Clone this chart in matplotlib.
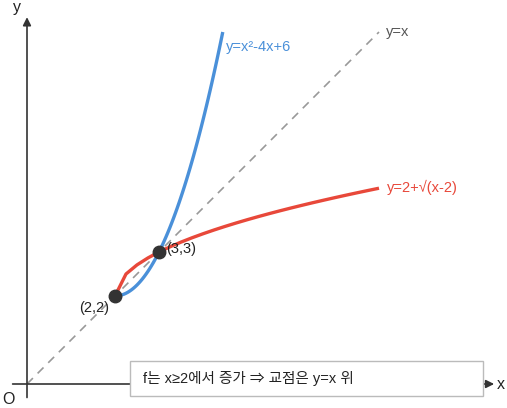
import numpy as np
import matplotlib
matplotlib.use("Agg")
import matplotlib.pyplot as plt
from matplotlib.patches import Rectangle

plt.rcParams['font.family'] = ['Liberation Sans', 'Noto Sans CJK KR', 'DejaVu Sans']

# curve samples (x values); y follows the labelled functions
parab_x = np.linspace(2, 2 + np.sqrt(6), 60)
root_x = np.linspace(2, 8, 25)
diag_x = [0, 8]
points = [(2, 2), (3, 3)]
point_labels = ["(2,2)", "(3,3)"]
note = "f는 x≥2에서 증가 ⇒ 교점은 y=x 위"

BLUE = "#4a90d9"
RED = "#e8483a"
GRAY = "#999999"
DARK = "#333333"

fig = plt.figure(figsize=(5.07, 4.08), dpi=100)
ax = fig.add_axes([0, 0, 1, 1])
ax.set_xlim(-27 / 44, 480 / 44)
ax.set_ylim(-24 / 44, 384 / 44)
ax.axis("off")

# axes with arrows
ax.annotate("", xy=(10.68, 0), xytext=(-0.39, 0),
            arrowprops=dict(arrowstyle="-|>", color=DARK, lw=1.2, mutation_scale=12))
ax.annotate("", xy=(0, 8.4), xytext=(0, -0.37),
            arrowprops=dict(arrowstyle="-|>", color=DARK, lw=1.2, mutation_scale=12))
ax.text(-0.22, 8.55, "y", fontsize=11.5, color="#222", ha="center", va="center")
ax.text(10.87, -0.02, "x", fontsize=11.5, color="#222", ha="right", va="center")
ax.text(-0.42, -0.36, "O", fontsize=11.5, color="#222", ha="center", va="center")

# y = x
ax.plot(diag_x, diag_x, color=GRAY, lw=1.2, ls=(0, (5, 4)))
ax.text(8.15, 8.0, "y=x", fontsize=10.5, color="#555", va="center")

# parabola
parab_y = parab_x ** 2 - 4 * parab_x + 6
ax.plot(parab_x, parab_y, color=BLUE, lw=2.4, solid_capstyle="butt")
ax.text(4.52, 7.65, "y=x²-4x+6", fontsize=10.5, color=BLUE, va="center")

# root curve
root_y = 2 + np.sqrt(root_x - 2)
ax.plot(root_x, root_y, color=RED, lw=2.4, solid_capstyle="butt")
ax.text(8.18, 4.47, "y=2+√(x-2)", fontsize=10.5, color=RED, va="center")

# intersection points
for (px, py), lab in zip(points, point_labels):
    ax.plot(px, py, "o", color=DARK, ms=9, zorder=5)
ax.text(1.18, 1.73, point_labels[0], fontsize=10.5, color="#222", va="center")
ax.text(3.17, 3.07, point_labels[1], fontsize=10.5, color="#222", va="center")

# note box
ax.add_patch(Rectangle((2.34, -0.27), 8.02, 0.79, fc="white", ec="#bbbbbb",
                       lw=1, zorder=6))
ax.text(2.64, 0.13, note, fontsize=10.5, color="#222", va="center", zorder=7)

fig.savefig("out.png", dpi=100)
